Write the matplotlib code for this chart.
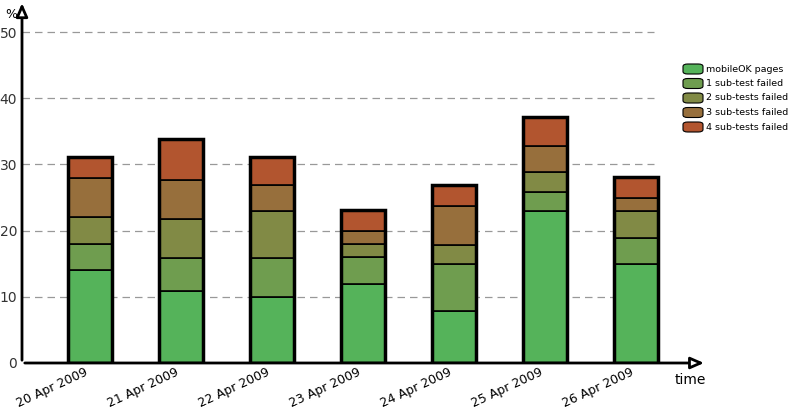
import matplotlib.pyplot as plt
from matplotlib.patches import FancyBboxPatch
import numpy as np

dates = ['20 Apr 2009', '21 Apr 2009', '22 Apr 2009', '23 Apr 2009',
         '24 Apr 2009', '25 Apr 2009', '26 Apr 2009']
series = ['mobileOK pages', '1 sub-test failed', '2 sub-tests failed',
          '3 sub-tests failed', '4 sub-tests failed']
# cumulative tops
tops = np.array([
    [14.0, 18.0, 22.0, 27.9, 31.1],
    [10.9, 15.8, 21.8, 27.7, 33.8],
    [10.0, 15.8, 22.9, 26.9, 31.1],
    [12.0, 16.0, 18.0, 20.0, 23.1],
    [7.9, 14.9, 17.8, 23.8, 26.9],
    [22.9, 25.9, 28.8, 32.8, 37.1],
    [14.9, 18.9, 23.0, 25.0, 28.1],
])
colors = ['#55b35a', '#6f9d4f', '#818a45', '#976f3c', '#b2552f']

fig = plt.figure(figsize=(7.95, 4.09), dpi=100)
ax = fig.add_axes([22/795, 46/409, 683/795, 358/409])
x = np.arange(len(dates))
ax.set_xlim(-0.75, 6.76)
ax.set_ylim(0, 54.1)

for y in range(10, 60, 10):
    ax.hlines(y, -0.75, 6.2, colors='#999999', linestyles=(0, (6, 4)), lw=0.9, zorder=0)

w = 0.49
bottom = np.zeros(len(dates))
for i in range(len(series)):
    h = tops[:, i] - bottom
    ax.bar(x, h, w, bottom=bottom, color=colors[i], edgecolor='black', lw=1.2, zorder=2)
    bottom = tops[:, i]
ax.bar(x, tops[:, -1], w, fill=False, edgecolor='black', lw=2.5, zorder=3)

for s in ax.spines.values():
    s.set_visible(False)
arrow = dict(arrowstyle='-|>,head_length=0.8,head_width=0.35', lw=2, ec='black', fc='white')
ax.annotate('', xy=(6.78, 0), xytext=(-0.75, 0), arrowprops=arrow, annotation_clip=False)
ax.annotate('', xy=(-0.75, 54.8), xytext=(-0.75, 0), arrowprops=arrow, annotation_clip=False)
ax.set_yticks(range(0, 60, 10))
ax.tick_params(axis='y', length=0, labelsize=10, colors='#333333')
ax.set_xticks(x)
ax.set_xticklabels(dates, rotation=25, ha='right', fontsize=9)
ax.tick_params(axis='x', length=0, pad=2)
fig.text(5/795, 1 - 14/409, '%', fontsize=9, ha='left', va='center')
fig.text(675/795, 1 - 380/409, 'time', fontsize=10, ha='left', va='center')

for i, name in enumerate(series):
    yc = 1 - (69 + i * 14.5) / 409
    fig.patches.append(FancyBboxPatch((683/795, yc - 5/409), 20/795, 10/409,
                                      boxstyle='round,pad=0,rounding_size=0.006',
                                      transform=fig.transFigure, fc=colors[i], ec='black', lw=0.8))
    fig.text(706/795, yc, name, fontsize=6.8, ha='left', va='center')

fig.savefig('out.png', dpi=100)
